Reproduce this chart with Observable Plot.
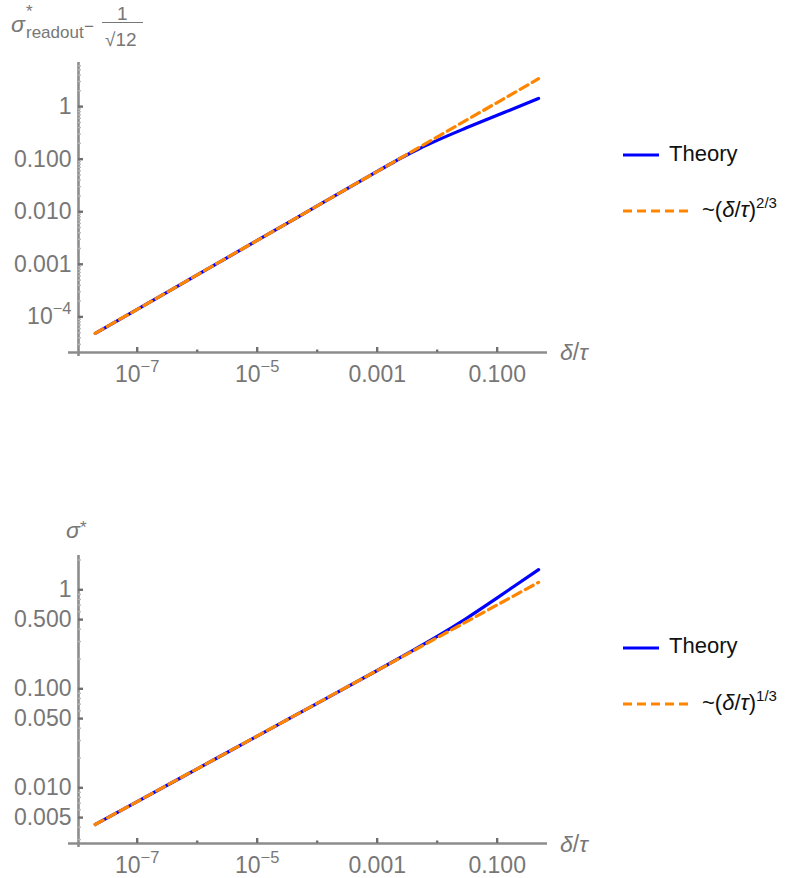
<!DOCTYPE html>
<html><head><meta charset="utf-8">
<script src="https://cdn.jsdelivr.net/npm/d3@7"></script>
<script src="https://cdn.jsdelivr.net/npm/@observablehq/plot@0.6"></script>
<style>
body{margin:0;background:#fff;}
#wrap{position:relative;width:790px;height:878px;overflow:hidden;font-family:"Liberation Sans",Arial,sans-serif;}
.a{position:absolute;white-space:nowrap;line-height:1;}
.g{color:#777;}
.k{color:#111;}
.p{position:absolute;left:0;}
</style></head><body><div id="wrap">
<div class="p" id="topPlot" style="top:0px"></div>
<div class="p" id="botPlot" style="top:480px"></div>

<!-- top y label: sigma*_readout - 1/sqrt(12) -->
<div class="a g" style="left:11px;top:12.5px;font-size:23px;font-style:italic">σ</div>
<div class="a g" style="left:26px;top:3px;font-size:17px">*</div>
<div class="a g" style="left:26px;top:23.6px;font-size:17px">readout</div>
<div class="a g" style="left:84px;top:18px;font-size:17px">−</div>
<div class="a g" style="left:117px;top:4px;font-size:19px">1</div>
<div class="a" style="left:102px;top:21.5px;width:41px;height:1.4px;background:#777"></div>
<div class="a g" style="left:105px;top:30px;font-size:19px">√12</div>

<!-- bottom y label -->
<div class="a g" style="left:66px;top:518.5px;font-size:23px;font-style:italic">σ</div>
<div class="a g" style="left:80px;top:519px;font-size:17px">*</div>

<!-- x labels -->
<div class="a g" style="left:560px;top:340.5px;font-size:23px"><i>δ</i>/<i>τ</i></div>
<div class="a g" style="left:560px;top:832.5px;font-size:23px"><i>δ</i>/<i>τ</i></div>

<!-- legends -->
<svg class="a" style="left:623px;top:150px" width="36" height="10"><line x1="0" x2="36" y1="5" y2="5" stroke="#0000ff" stroke-width="3.2"/></svg>
<div class="a k" style="left:669px;top:143px;font-size:22px">Theory</div>
<svg class="a" style="left:623px;top:205.5px" width="66" height="10"><line x1="0" x2="66" y1="5" y2="5" stroke="#ff8500" stroke-width="3.2" stroke-dasharray="9,5"/></svg>
<div class="a k" style="left:702px;top:199.4px;font-size:22px">~(<i>δ</i>/<i>τ</i>)<span style="font-size:15px;position:relative;top:-9px">2/3</span></div>

<svg class="a" style="left:623px;top:643.3px" width="36" height="10"><line x1="0" x2="36" y1="5" y2="5" stroke="#0000ff" stroke-width="3.2"/></svg>
<div class="a k" style="left:669px;top:635.4px;font-size:22px">Theory</div>
<svg class="a" style="left:623px;top:699.3px" width="66" height="10"><line x1="0" x2="66" y1="5" y2="5" stroke="#ff8500" stroke-width="3.2" stroke-dasharray="9,5"/></svg>
<div class="a k" style="left:702px;top:692px;font-size:22px">~(<i>δ</i>/<i>τ</i>)<span style="font-size:15px;position:relative;top:-9px">1/3</span></div>
</div>
<script>
// ---- tick values and labels ----
const xTicks = [1e-7, 1e-5, 1e-3, 1e-1];
const xTickLabels = ["10^−7", "10^−5", "0.001", "0.100"];
const xMinorTicks = [1e-6, 1e-4, 1e-2];
const topYTicks = [1, 0.1, 0.01, 0.001, 1e-4];
const topYTickLabels = ["1", "0.100", "0.010", "0.001", "10^−4"];
const botYTicks = [1, 0.5, 0.1, 0.05, 0.01, 0.005];
const botYTickLabels = ["1", "0.500", "0.100", "0.050", "0.010", "0.005"];

// ---- series ----
const theoryTopX = [2e-8, 1e-7, 1e-6, 1e-5, 1e-4, 1e-3, 2e-3, 3e-3, 5e-3, 0.01, 0.03, 0.1, 0.2, 0.49];
const theoryTopY = [4.84e-5, 1.39e-4, 6.3e-4, 2.85e-3, 0.0129, 0.0584, 0.0913, 0.1174, 0.1578, 0.228, 0.39, 0.685, 0.94, 1.43];
const fitTopX = [2e-8, 0.49];
const fitTopY = [4.84e-5, 3.39];

const theoryBotX = [2e-8, 1e-7, 1e-6, 1e-5, 1e-4, 1e-3, 3e-3, 0.01, 0.03, 0.1, 0.2, 0.49];
const theoryBotY = [0.00426, 0.00726, 0.01555, 0.0333, 0.0714, 0.1531, 0.2225, 0.338, 0.51, 0.829, 1.105, 1.6];
const fitBotX = [2e-8, 0.49];
const fitBotY = [0.00426, 1.19];

const BLUE = "#0000ff", ORANGE = "#ff8500";
const AXIS = "#8c8c8c", MAJOR = "#707070", MINOR = "#b8b8b8", LABEL = "#777";

function minorLog(lo, hi, exclude) {
  const out = [];
  for (let k = -6; k <= 1; k++) for (let m = 2; m <= 9; m++) {
    const v = m * Math.pow(10, k);
    if (v >= lo && v <= hi && !exclude.some(e => Math.abs(e - v) / v < 1e-9)) out.push(v);
  }
  return out;
}

const W = 790, ML = 78, MR = 243, FW = W - ML - MR;

function panel(o) {
  const FH = o.height - o.marginTop - o.marginBottom;
  const svg = Plot.plot({
    width: W, height: o.height,
    marginLeft: ML, marginRight: MR, marginTop: o.marginTop, marginBottom: o.marginBottom,
    style: {fontFamily: '"Liberation Sans", Arial, sans-serif', fontSize: "23px", background: "transparent", overflow: "visible", color: LABEL},
    x: {type: "log", domain: o.xDomain, label: null, axis: null},
    y: {type: "log", domain: o.yDomain, label: null, axis: null},
    marks: [
      // axis lines (Mathematica style, crossing)
      Plot.ruleY([o.yDomain[0]], {stroke: AXIS, strokeWidth: 2.6, insetLeft: -10}),
      Plot.ruleX([o.xDomain[0]], {stroke: AXIS, strokeWidth: 2.6, insetBottom: -4}),
      // y ticks (inward)
      Plot.ruleY(o.yMinor, {y: d => d, stroke: MINOR, strokeWidth: 1.4, insetRight: FW - 3}),
      Plot.ruleY(o.yTicks, {y: d => d, stroke: MAJOR, strokeWidth: 2.4, insetRight: FW - 5}),
      // x ticks (inward)
      Plot.ruleX(xMinorTicks, {x: d => d, stroke: MAJOR, strokeWidth: 2.4, insetTop: FH - 2.5}),
      Plot.ruleX(xTicks, {x: d => d, stroke: MAJOR, strokeWidth: 2.4, insetTop: FH - 5}),
      // tick labels
      Plot.text(o.yTicks, {y: d => d, text: o.yLabels, frameAnchor: "left", textAnchor: "end", dx: -7, fill: LABEL, fontSize: 23}),
      Plot.text(xTicks, {x: d => d, text: xTickLabels, frameAnchor: "bottom", lineAnchor: "top", dy: 13, fill: LABEL, fontSize: 23}),
      // data
      Plot.line(o.theoryX, {x: o.theoryX, y: o.theoryY, stroke: BLUE, strokeWidth: 3.2, curve: "monotone-x"}),
      Plot.line(o.fitX, {x: o.fitX, y: o.fitY, stroke: ORANGE, strokeWidth: 3.2, strokeDasharray: "9,5"})
    ]
  });
  const ns = "http://www.w3.org/2000/svg";
  svg.querySelectorAll("text").forEach(t => {
    const m = /^10\^(.+)$/.exec(t.textContent);
    if (m) {
      while (t.firstChild) t.removeChild(t.firstChild);
      const a = document.createElementNS(ns, "tspan"); a.textContent = "10";
      const b = document.createElementNS(ns, "tspan"); b.textContent = m[1];
      b.setAttribute("dy", "-10"); b.setAttribute("font-size", "16.5");
      t.append(a, b);
    }
  });
  return svg;
}

const xDomain = [1.05e-8, 0.69];
const topYDomain = [2.1e-5, 6.9];
const botYDomain = [0.002738, 2.22];

document.getElementById("topPlot").append(panel({
  height: 392, marginTop: 62, marginBottom: 40,
  xDomain, yDomain: topYDomain,
  yTicks: topYTicks, yLabels: topYTickLabels, yMinor: minorLog(topYDomain[0], topYDomain[1], topYTicks),
  theoryX: theoryTopX, theoryY: theoryTopY, fitX: fitTopX, fitY: fitTopY
}));
document.getElementById("botPlot").append(panel({
  height: 398, marginTop: 75, marginBottom: 35,
  xDomain, yDomain: botYDomain,
  yTicks: botYTicks, yLabels: botYTickLabels, yMinor: minorLog(botYDomain[0], botYDomain[1], botYTicks),
  theoryX: theoryBotX, theoryY: theoryBotY, fitX: fitBotX, fitY: fitBotY
}));
</script>
</body></html>
